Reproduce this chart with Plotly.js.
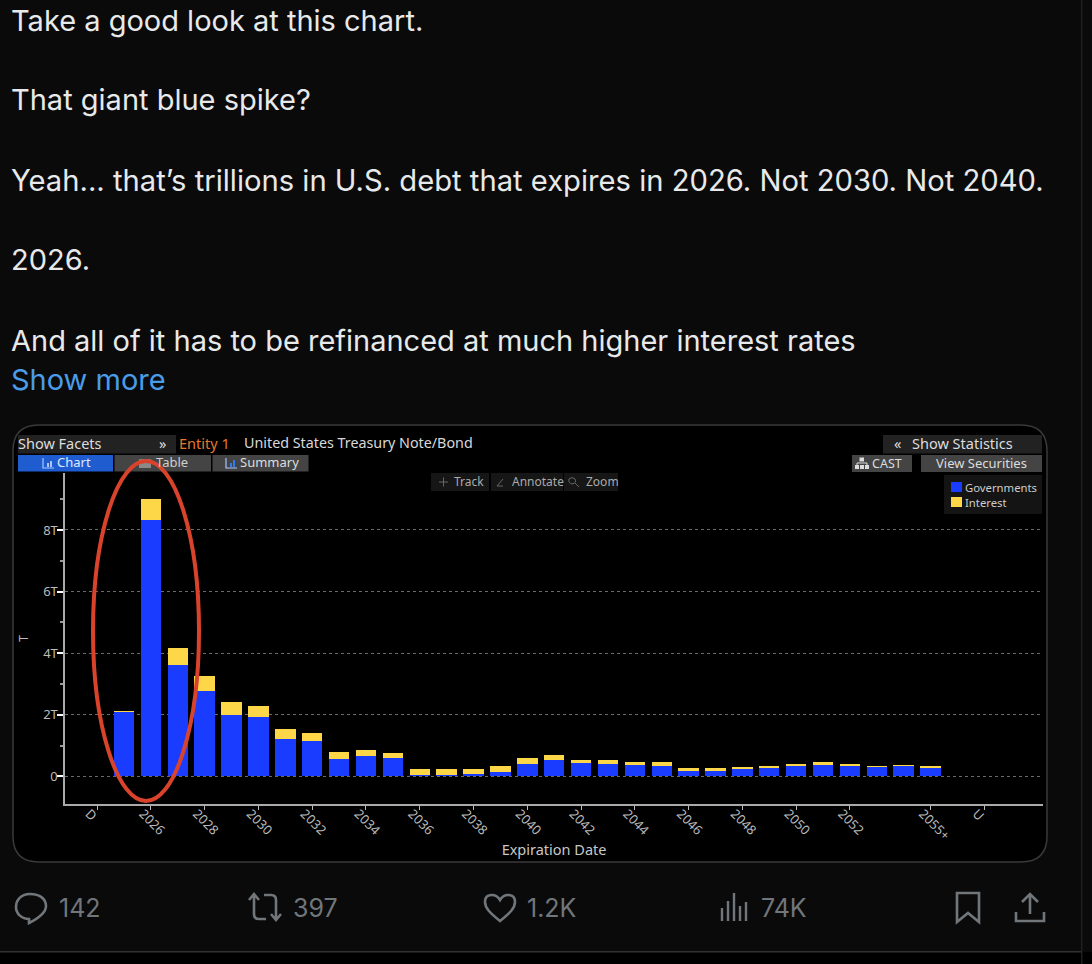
<!DOCTYPE html>
<html><head><meta charset="utf-8">
<script src="https://cdn.plot.ly/plotly-3.0.1.min.js"></script>
<style>html,body{margin:0;padding:0;background:#0a0a0a;overflow:hidden}#c{width:1092px;height:964px}</style>
</head><body><div id="c"></div>
<script>
const W=1092,H=964;
const years=[2025,2026,2027,2028,2029,2030,2031,2032,2033,2034,2035,2036,2037,2038,2039,2040,2041,2042,2043,2044,2045,2046,2047,2048,2049,2050,2051,2052,2053,2054,2055];
const governments=[2.09,8.32,3.60,2.78,2.00,1.94,1.22,1.16,0.56,0.65,0.58,0.04,0.03,0.06,0.15,0.41,0.53,0.42,0.39,0.38,0.34,0.18,0.18,0.24,0.27,0.32,0.37,0.33,0.29,0.32,0.27];
const interest=[0.03,0.67,0.56,0.47,0.41,0.35,0.30,0.24,0.24,0.20,0.18,0.19,0.20,0.17,0.18,0.18,0.16,0.12,0.13,0.10,0.11,0.10,0.10,0.07,0.06,0.07,0.08,0.07,0.04,0.05,0.05];
const xTickVals=[2024,2026,2028,2030,2032,2034,2036,2038,2040,2042,2044,2046,2048,2050,2052,2055,2057];
const xTickText=['D','2026','2028','2030','2032','2034','2036','2038','2040','2042','2044','2046','2048','2050','2052','2055+','U'];
const yTickVals=[0,2,4,6,8];
const yTickText=['0','2T','4T','6T','8T'];
const tweetLines=['Take a good look at this chart.','That giant blue spike?','Yeah... that\u2019s trillions in U.S. debt that expires in 2026. Not 2030. Not 2040.','2026.','And all of it has to be refinanced at much higher interest rates'];

const px=x=>x/W, py=y=>1-y/H;
function path(d){let i=0;return d.replace(/-?\d+(\.\d+)?/g,m=>{const v=+m;return ((i++%2===0)?px(v):py(v)).toFixed(5);});}
function rect(x0,y0,x1,y1,fill,extra){return Object.assign({type:'rect',xref:'paper',yref:'paper',x0:px(x0),x1:px(x1),y0:py(y1),y1:py(y0),fillcolor:fill,line:{width:0},layer:'below'},extra||{});}
function icon(d,color,width,fill,layer){return {type:'path',xref:'paper',yref:'paper',path:path(d),line:{color:color,width:width},fillcolor:fill||'rgba(0,0,0,0)',layer:layer||'above'};}
function txt(x,y,t,size,color,font,anchor){return {xref:'paper',yref:'paper',x:px(x),y:py(y),text:t,showarrow:false,xanchor:anchor||'left',yanchor:'middle',align:'left',font:{family:font||UI,size:size,color:color},borderpad:0};}
const UI='"Noto Sans", sans-serif', TW='Inter, sans-serif';

const shapes=[
 rect(0,952,1092,964,'#000000'),
 rect(0,951,1082,952.5,'#2f3336'),
 rect(1081,0,1082.5,964,'#1d1f21'),
 {type:'path',xref:'paper',yref:'paper',layer:'below',fillcolor:'#000000',line:{color:'#3a3a3a',width:1.5},
  path:path('M 39 425 L 1021 425 Q 1047 425 1047 451 L 1047 836 Q 1047 862 1021 862 L 39 862 Q 13 862 13 836 L 13 451 Q 13 425 39 425 Z')},
 rect(18,435,176,453.5,'#222222'),
 rect(18,455,113,471.5,'#1f5cd0'),
 rect(114.5,455,211,471.5,'#444444'),
 rect(212.5,455,308.5,471.5,'#444444'),
 rect(883,435,1042,453.5,'#222222'),
 rect(852,455,912,472,'#444444'),
 rect(921,455,1042,472,'#444444'),
 rect(431,473,489,491,'#161616'),
 rect(491,473,563,491,'#161616'),
 rect(564,473,618,491,'#161616'),
 rect(944,475,1042,514,'#141414'),
 rect(951,482,962,492,'#1a3cff',{layer:'above'}),
 rect(951,497,962,507,'#fdd748',{layer:'above'}),
 icon('M 43 458 L 43 468 L 54 468','#a9c4ff',1.2),
 rect(47,463,49,467,'#a9c4ff',{layer:'above'}),
 rect(50,461,52,467,'#a9c4ff',{layer:'above'}),
 icon('M 226 458 L 226 468 L 237 468','#a9c4ff',1.2),
 rect(230,463,232,467,'#2f7cf0',{layer:'above'}),
 rect(233,460,235,467,'#2f7cf0',{layer:'above'}),
 rect(139,459,151,468,'#8a8a8a',{layer:'above'}),
 rect(859.5,457.5,864,461.5,'#dddddd',{layer:'above'}),
 rect(855,465,859,469,'#dddddd',{layer:'above'}),
 rect(860,465,864,469,'#dddddd',{layer:'above'}),
 rect(865,465,869,469,'#dddddd',{layer:'above'}),
 icon('M 857 465 L 857 463 L 867 463 L 867 465','#dddddd',1),
 icon('M 439 482 L 448 482 M 443.5 477.5 L 443.5 486.5','#666666',1),
 icon('M 497 486 L 503 479 M 497 486 L 503 486','#666666',1),
 icon('M 569 479 Q 572 476 575 479 Q 577 483 572 484 Q 568 483 569 479 Z M 575 483 L 579 487','#666666',1),
 {type:'circle',xref:'paper',yref:'paper',x0:px(93),x1:px(199),y0:py(801),y1:py(461),line:{color:'#d9432b',width:4},fillcolor:'rgba(0,0,0,0)',layer:'above'},
 icon('M 30 894 C 20 894 16 901 16 907 C 16 914 22 919 29 919 L 29 923 C 35 920 46 914 46 906 C 46 899 40 894 30 894 Z','#71767b',2.6),
 icon('M 249 900 L 254 894 L 259 900 M 254 895 L 254 914 Q 254 919 259 919 L 266 919','#71767b',2.6),
 icon('M 281 914 L 276 920 L 271 914 M 276 919 L 276 900 Q 276 895 271 895 L 264 895','#71767b',2.6),
 icon('M 500 921 C 490 913 485 908 485 902 C 485 893 496 893 500 900 C 504 893 515 893 515 902 C 515 908 510 913 500 921 Z','#71767b',2.6),
 icon('M 722 908 L 722 921 M 728 901 L 728 921 M 734 893 L 734 921 M 740 906 L 740 921 M 746 902 L 746 921','#71767b',2.4),
 icon('M 957 893 L 979 893 L 979 922 L 968 913 L 957 922 Z','#71767b',2.6),
 icon('M 1030 896 L 1030 914 M 1022 902 L 1030 894 L 1038 902 M 1016 912 L 1016 921 L 1044 921 L 1044 912','#71767b',2.6)
];

const annotations=[
 txt(10,20,tweetLines[0],29,'#e7e9ea',TW),
 txt(10,100,tweetLines[1],29,'#e7e9ea',TW),
 txt(10,180,tweetLines[2],29.2,'#e7e9ea',TW),
 txt(10,260,tweetLines[3],29,'#e7e9ea',TW),
 txt(10,340,tweetLines[4],29,'#e7e9ea',TW),
 txt(10,380,'Show more',29,'#4b9ce8',TW),
 txt(17,443,'Show Facets',14.5,'#dddddd'),
 txt(158,443,'\u00bb',14.5,'#dddddd'),
 txt(178,443,'Entity 1',14.5,'#e8782e'),
 txt(243,443,'United States Treasury Note/Bond',14.3,'#d8d8d8'),
 txt(56,462,'Chart',13,'#e0e8ff'),
 txt(155,462,'Table',13,'#d0d0d0'),
 txt(239,462,'Summary',13,'#dddddd'),
 txt(893,443,'\u00ab',14.5,'#dddddd'),
 txt(911,443,'Show Statistics',14.5,'#dddddd'),
 txt(871,463,'CAST',12.5,'#dddddd'),
 txt(935,463,'View Securities',13,'#dddddd'),
 txt(453,481,'Track',12,'#aaaaaa'),
 txt(511,481,'Annotate',12,'#aaaaaa'),
 txt(585,481,'Zoom',12,'#aaaaaa'),
 txt(964,487.5,'Governments',11.3,'#cccccc'),
 txt(964,502.5,'Interest',11.3,'#cccccc'),
 txt(58,908,'142',25,'#71767b',TW),
 txt(292,908,'397',25,'#71767b',TW),
 txt(526,908,'1.2K',25,'#71767b',TW),
 txt(760,908,'74K',25,'#71767b',TW)
];

const traces=[
 {type:'bar',name:'Governments',x:years,y:governments,width:0.76,marker:{color:'#1a3cff'}},
 {type:'bar',name:'Interest',x:years,y:interest,width:0.76,marker:{color:'#fdd748'}}
];
const layout={
 width:W,height:H,margin:{l:0,r:0,t:0,b:0,pad:0},autosize:false,showlegend:false,barmode:'stack',
 paper_bgcolor:'#0a0a0a',plot_bgcolor:'#000000',font:{family:UI,color:'#cccccc'},
 xaxis:{domain:[px(65.4),px(1042.7)],range:[2022.82,2059.17],tickmode:'array',tickvals:xTickVals,ticktext:xTickText,tickangle:45,
  ticks:'outside',ticklen:4,tickcolor:'#bbbbbb',tickfont:{size:13,color:'#bbbbbb'},ticklabelstandoff:-9,ticklabelshift:-8,showgrid:false,zeroline:false,showline:true,linecolor:'#aaaaaa',linewidth:2,
  title:{text:'Expiration Date',font:{size:14.5,color:'#c8c8c8'},standoff:0}},
 yaxis:{domain:[py(804),py(473)],range:[-0.9,9.85],tickmode:'array',tickvals:yTickVals,ticktext:yTickText,
  ticks:'outside',ticklen:6,tickwidth:2,tickcolor:'#ffffff',tickfont:{size:13,color:'#bbbbbb'},ticklabelstandoff:-3,showgrid:true,gridcolor:'#6a6a6a',griddash:'dot',gridwidth:1,zeroline:false,showline:true,linecolor:'#aaaaaa',linewidth:2,
  minor:{tickmode:'array',tickvals:[1,3,5,7,9],ticks:'outside',ticklen:3,tickcolor:'#999999',showgrid:false},
  title:{text:'T',font:{size:12,color:'#bbbbbb'},standoff:12}},
 shapes:shapes,annotations:annotations
};
Plotly.newPlot('c',traces,layout,{displayModeBar:false,staticPlot:true});
</script></body></html>
